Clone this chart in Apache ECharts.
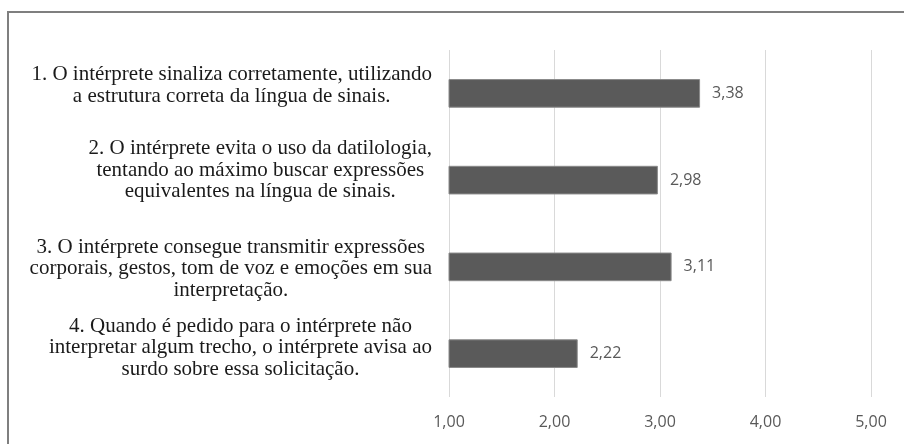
<!DOCTYPE html>
<html>
<head>
<meta charset="utf-8">
<script src="https://cdn.jsdelivr.net/npm/echarts@6/dist/echarts.min.js"></script>
<style>
html, body { margin: 0; padding: 0; background: #fff; }
#frame { position: absolute; left: 7px; top: 11px; width: 897px; height: 433px;
         border-left: 2px solid #7f7f7f; border-top: 2px solid #7f7f7f; }
#chart { position: absolute; left: 0; top: 0; width: 904px; height: 444px; }
</style>
</head>
<body>
<div id="frame"></div>
<div id="chart"></div>
<script>
// itens avaliados
var categorias = [
    '1. O intérprete sinaliza corretamente, utilizando\na estrutura correta da língua de sinais.',
    '2. O intérprete evita o uso da datilologia,\ntentando ao máximo buscar expressões\nequivalentes na língua de sinais.',
    '3. O intérprete consegue transmitir expressões\ncorporais, gestos, tom de voz e emoções em sua\ninterpretação.',
    '4. Quando é pedido para o intérprete não\ninterpretar algum trecho, o intérprete avisa ao\nsurdo sobre essa solicitação.'
];
// médias
var medias = [3.38, 2.98, 3.11, 2.22];
// eixo x
var eixoMin = 1, eixoMax = 5, eixoPasso = 1;

// deslocamento vertical de cada rótulo (px, negativo = para cima)
var deslocRotulo = [-8, -10, 2, -6];

var chart = echarts.init(document.getElementById('chart'));

function virgula(v) {
    return Number(v).toFixed(2).replace('.', ',');
}

var dadosY = [];
for (var i = 0; i < categorias.length; i++) {
    var d = deslocRotulo[i];
    dadosY.push({
        value: categorias[i],
        textStyle: {
            padding: d < 0 ? [0, 0, -2 * d, 0] : [2 * d, 0, 0, 0]
        }
    });
}

var option = {
    animation: false,
    grid: {
        left: 449,
        right: 33,
        top: 50,
        bottom: 47
    },
    xAxis: {
        type: 'value',
        min: eixoMin,
        max: eixoMax,
        interval: eixoPasso,
        axisLine: { show: false },
        axisTick: { show: false },
        splitLine: { lineStyle: { color: '#d9d9d9', width: 1 } },
        axisLabel: {
            margin: 17,
            color: '#595959',
            fontFamily: 'Open Sans',
            fontSize: 16,
            formatter: virgula
        }
    },
    yAxis: {
        type: 'category',
        inverse: true,
        data: dadosY,
        axisLine: { show: false },
        axisTick: { show: false },
        axisLabel: {
            margin: 17,
            formatter: function (v) {
                return '{c|' + v + '}';
            },
            rich: {
                c: {
                    align: 'center',
                    fontFamily: 'Liberation Serif',
                    fontSize: 21,
                    lineHeight: 21.5,
                    color: '#1a1a1a'
                }
            }
        }
    },
    series: [{
        type: 'bar',
        data: medias,
        barWidth: '33%',
        itemStyle: {
            color: '#5a5a5a',
            borderColor: '#8a8a8a',
            borderWidth: 1
        },
        label: {
            show: true,
            position: 'right',
            distance: 12,
            color: '#595959',
            fontFamily: 'Open Sans',
            fontSize: 16,
            formatter: function (p) { return virgula(p.value); }
        }
    }]
};

chart.setOption(option);
</script>
</body>
</html>
